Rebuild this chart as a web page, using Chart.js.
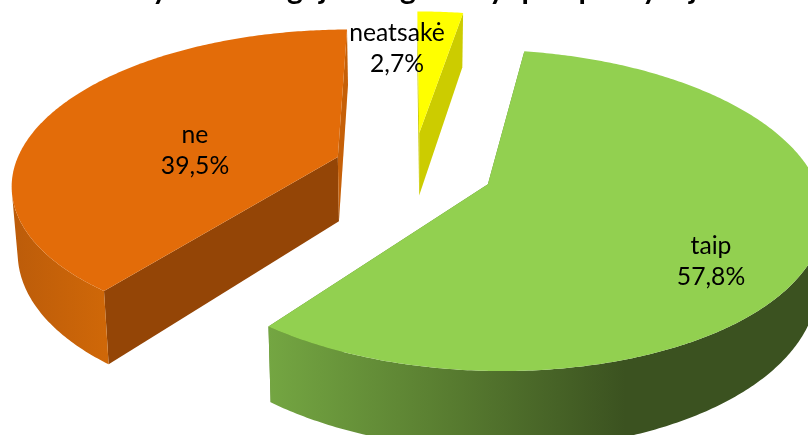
<!DOCTYPE html>
<html>
<head>
<meta charset="utf-8">
<style>body { margin: 0; background: #fff; } canvas { display: block; }</style>
<script src="https://cdn.jsdelivr.net/npm/chart.js@4/dist/chart.umd.min.js"></script>
</head>
<body>
<canvas id="pie" width="808" height="435"></canvas>
<script>
const categories = ['taip', 'ne', 'neatsakė'];
const shares = [57.8, 39.5, 2.7];

// only the tails of the title survive the crop at the top of the picture
const titleTails = ['y', 'g', 'j', 'g', 'y', 'p', 'p', 'y', 'j'];
const titleTailX = [160, 295, 323, 408, 497, 530, 587, 650, 693];

const topColors = ['#92D050', '#E36C09', '#FFFF00'];
const cutColors = ['#5F8A30', '#944506', '#CCCC00'];
const endColors = ['#5F8A30', '#C66008', '#CCCC00'];
const wallStops = [
  [[268, '#74A642'], [450, '#587C30'], [625, '#3B5220']],
  [[12, '#BC5C0A'], [110, '#D06808']],
  [[417, '#CCCC00'], [462, '#CCCC00']]
];
const labelSpots = [[711, 246], [195, 135], [397, 33]];

const cam = { cx: 413, cy: 169, a: 324, b: 151.5, k: 0.16, depth: 65, squeeze: 0.015 };

const project = (x, y, z) => {
  const w = 1 - cam.k * y;
  return [
    cam.cx + cam.a * x * (1 - cam.squeeze * z) / w,
    cam.cy + (cam.b * y + cam.depth * z) / w
  ];
};

const addPoly = (ctx, pts) => {
  pts.forEach((p, i) => i ? ctx.lineTo(p[0], p[1]) : ctx.moveTo(p[0], p[1]));
  ctx.closePath();
};

const trace = (ctx, pts) => {
  ctx.beginPath();
  addPoly(ctx, pts);
};

const shoelace = (pts) => pts.reduce((sum, p, i) => {
  const q = pts[(i + 1) % pts.length];
  return sum + p[0] * q[1] - q[0] * p[1];
}, 0);

const drawSlice = (ctx, arc, i) => {
  const R = arc.outerRadius;
  const mid = (arc.startAngle + arc.endAngle) / 2;
  const off = arc.options.offset / R;
  const ox = Math.cos(mid) * off;
  const oy = Math.sin(mid) * off;
  const steps = Math.ceil((arc.endAngle - arc.startAngle) * 90);
  const rim = (z) => {
    const pts = [];
    for (let s = 0; s <= steps; s++) {
      const t = arc.startAngle + (arc.endAngle - arc.startAngle) * s / steps;
      pts.push(project(ox + Math.cos(t), oy + Math.sin(t), z));
    }
    return pts;
  };
  const top = rim(0);
  const bottom = rim(1);
  const apexTop = project(ox, oy, 0);
  const apexBottom = project(ox, oy, 1);

  const x0 = wallStops[i][0][0];
  const span = wallStops[i][wallStops[i].length - 1][0] - x0;
  const grad = ctx.createLinearGradient(x0, 0, x0 + span, 0);
  wallStops[i].forEach(st => grad.addColorStop((st[0] - x0) / span, st[1]));

  ctx.fillStyle = cutColors[i];
  trace(ctx, [apexTop, top[0], bottom[0], apexBottom]);
  ctx.fill();
  ctx.fillStyle = endColors[i];
  trace(ctx, [apexTop, top[steps], bottom[steps], apexBottom]);
  ctx.fill();
  // one path of the strips that face the viewer, so no seams and no far-side edge
  ctx.fillStyle = grad;
  ctx.beginPath();
  for (let s = 0; s < steps; s++) {
    const strip = [top[s], top[s + 1], bottom[s + 1], bottom[s]];
    if (shoelace(strip) < 0) addPoly(ctx, strip);
  }
  ctx.fill();
  ctx.fillStyle = arc.options.backgroundColor;
  trace(ctx, [apexTop].concat(top));
  ctx.fill();
};

const tiltedPie = {
  id: 'tiltedPie',
  beforeDatasetsDraw(chart) {
    const arcs = chart.getDatasetMeta(0).data;
    [2, 1, 0].forEach(i => drawSlice(chart.ctx, arcs[i], i));
    return false;
  },
  afterDraw(chart) {
    const ctx = chart.ctx;
    ctx.save();
    ctx.fillStyle = '#000';
    ctx.textAlign = 'center';
    ctx.textBaseline = 'middle';
    ctx.font = '24.7px Lato';
    categories.forEach((c, i) => {
      ctx.fillText(c, labelSpots[i][0], labelSpots[i][1]);
      ctx.fillText(shares[i].toFixed(1).replace('.', ',') + '%', labelSpots[i][0], labelSpots[i][1] + 31);
    });
    ctx.font = 'bold 30px Lato';
    ctx.textBaseline = 'alphabetic';
    titleTails.forEach((c, i) => ctx.fillText(c, titleTailX[i], -1));
    ctx.restore();
  }
};

new Chart(document.getElementById('pie'), {
  type: 'pie',
  data: {
    labels: categories,
    datasets: [{
      data: shares,
      backgroundColor: topColors,
      borderWidth: 0,
      offset: 48
    }]
  },
  options: {
    responsive: false,
    animation: false,
    rotation: 9.5,
    plugins: { legend: { display: false }, tooltip: { enabled: false } }
  },
  plugins: [tiltedPie]
});
</script>
</body>
</html>
